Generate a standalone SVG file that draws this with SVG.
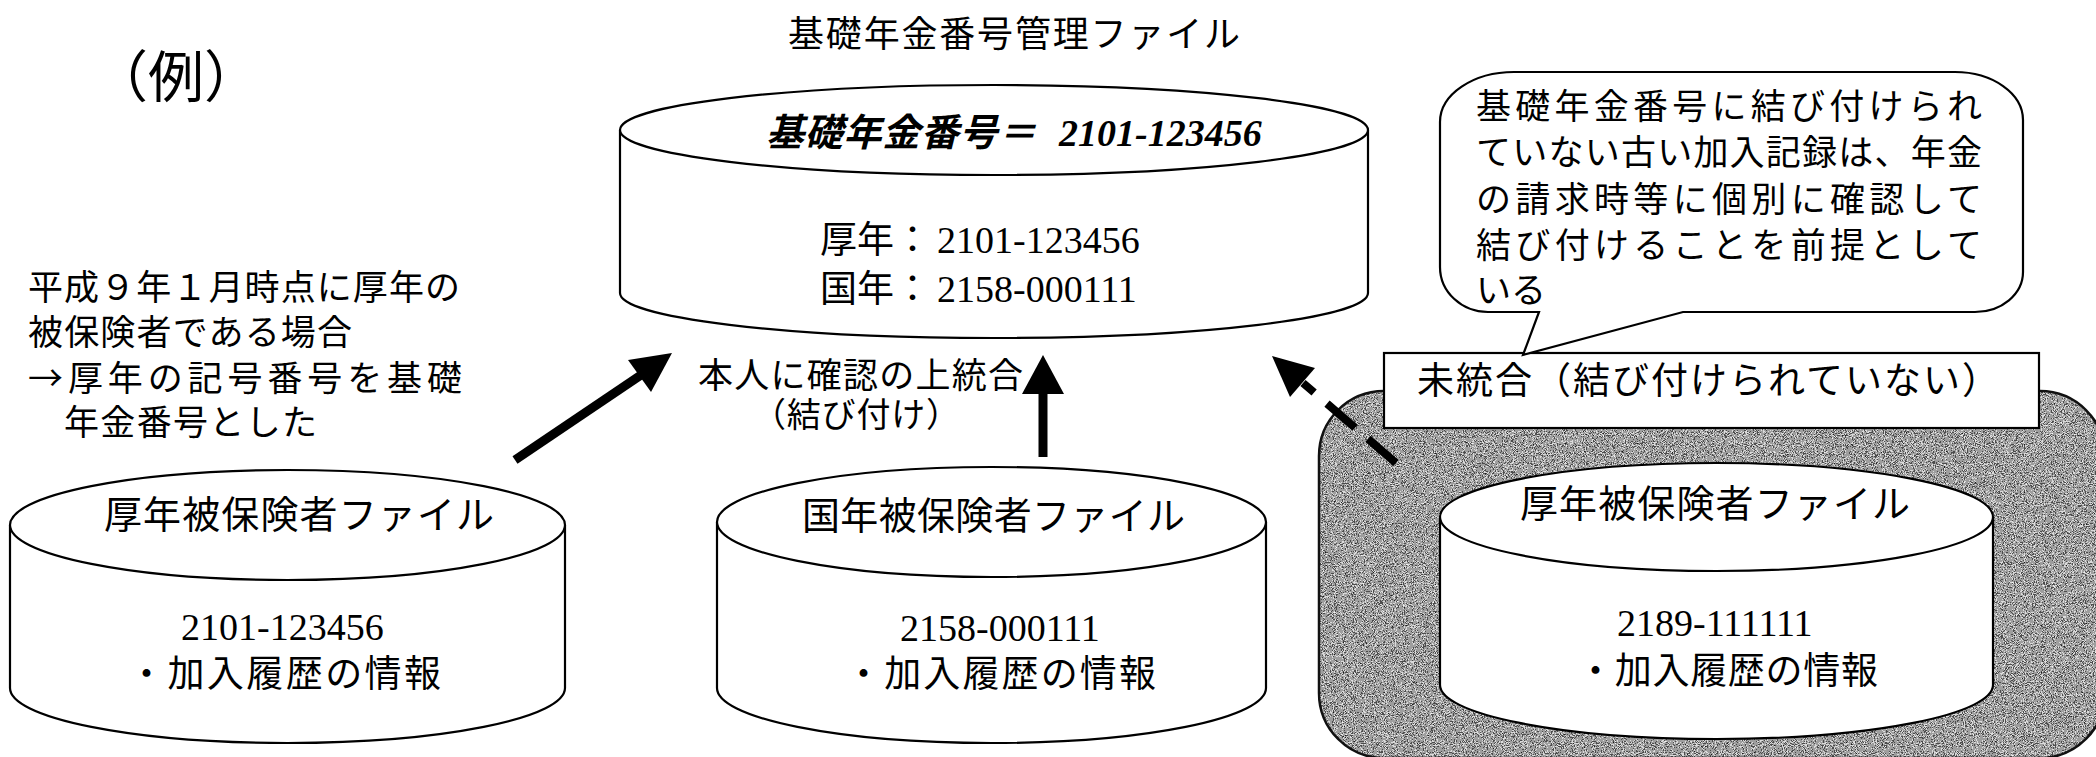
<svg xmlns="http://www.w3.org/2000/svg" width="2096" height="757" viewBox="0 0 2096 757">
<style>
.jp{font-family:"Noto Sans CJK JP","Noto Sans CJK SC",sans-serif;fill:#000}
.num{font-family:"Liberation Serif","Times New Roman",serif;fill:#000}
.shape{fill:#fff;stroke:#000;stroke-width:2.2}
.bi{font-weight:bold;font-style:italic}
</style>
<defs>
<filter id="grain" x="0" y="0" width="100%" height="100%" color-interpolation-filters="sRGB">
<feTurbulence type="fractalNoise" baseFrequency="1.1" numOctaves="2" seed="5" result="noise"/>
<feColorMatrix in="noise" type="matrix" values="1 0 0 0 0  1 0 0 0 0  1 0 0 0 0  0 0 0 0 1" result="gray"/>
<feComponentTransfer in="gray" result="bw">
<feFuncR type="discrete" tableValues="0.1 0.3 0.62 0.86 0.97"/>
<feFuncG type="discrete" tableValues="0.1 0.3 0.62 0.86 0.97"/>
<feFuncB type="discrete" tableValues="0.1 0.3 0.62 0.86 0.97"/>
</feComponentTransfer>
<feComposite in="bw" in2="SourceGraphic" operator="in"/>
</filter>
</defs>
<rect width="2096" height="757" fill="#fff"/>

<g id="title">
<text class="jp" x="788" y="47" font-size="36" textLength="452" lengthAdjust="spacing">基礎年金番号管理ファイル</text>
</g>
<g id="example-label">
<text class="jp" x="176" y="97" font-size="56" text-anchor="middle">（例）</text>
</g>
<g id="note-left">
<text class="jp" x="28" y="300" font-size="35" textLength="432" lengthAdjust="spacing">平成９年１月時点に厚年の</text>
<text class="jp" x="28" y="345" font-size="35" textLength="324" lengthAdjust="spacing">被保険者である場合</text>
<text class="jp" x="28" y="391" font-size="35" textLength="434" lengthAdjust="spacing">→厚年の記号番号を基礎</text>
<text class="jp" x="64" y="435" font-size="35" textLength="253" lengthAdjust="spacing">年金番号とした</text>
</g>

<g id="unmatched-area">
<rect x="1319" y="391" width="786" height="367" rx="65" ry="65" fill="#000" filter="url(#grain)"/>
<rect x="1319" y="391" width="786" height="367" rx="65" ry="65" fill="none" stroke="#111" stroke-width="2.5"/>
</g>

<g id="master-file">
<path class="shape" d="M620,130 V293 A374,45 0 0 0 1368,293 V130"/>
<ellipse class="shape" cx="994" cy="130" rx="374" ry="45"/>
<text y="146" class="bi"><tspan class="jp" x="766" font-size="38" letter-spacing="0.7">基礎年金番号＝</tspan><tspan class="num" x="1059" font-size="38">2101-123456</tspan></text>
<text y="253"><tspan class="jp" x="820" font-size="37">厚年：</tspan><tspan class="num" x="937" font-size="38">2101-123456</tspan></text>
<text y="302"><tspan class="jp" x="820" font-size="37">国年：</tspan><tspan class="num" x="937" font-size="38">2158-000111</tspan></text>
</g>

<g id="kosei-file-1">
<path class="shape" d="M10,525 V688 A277.5,55 0 0 0 565,688 V525"/>
<ellipse class="shape" cx="287.5" cy="525" rx="277.5" ry="55"/>
<text class="jp" x="104" y="528" font-size="38" textLength="390" lengthAdjust="spacing">厚年被保険者ファイル</text>
<text class="num" x="181" y="640" font-size="38">2101-123456</text>
<text class="jp" x="128" y="687" font-size="37" textLength="313" lengthAdjust="spacing">・加入履歴の情報</text>
</g>

<g id="kokumin-file">
<path class="shape" d="M717,522 V688 A274.5,55 0 0 0 1266,688 V522"/>
<ellipse class="shape" cx="991.5" cy="522" rx="274.5" ry="55"/>
<text class="jp" x="802" y="529" font-size="38" textLength="383" lengthAdjust="spacing">国年被保険者ファイル</text>
<text class="num" x="900" y="641" font-size="38">2158-000111</text>
<text class="jp" x="845" y="687" font-size="37" textLength="311" lengthAdjust="spacing">・加入履歴の情報</text>
</g>

<g id="kosei-file-2">
<path class="shape" d="M1440,517 V685 A276.5,54 0 0 0 1993,685 V517"/>
<ellipse class="shape" cx="1716.5" cy="517" rx="276.5" ry="54"/>
<text class="jp" x="1520" y="517" font-size="38" textLength="390" lengthAdjust="spacing">厚年被保険者ファイル</text>
<text class="num" x="1617" y="636" font-size="38">2189-111111</text>
<text class="jp" x="1577" y="684" font-size="37" textLength="301" lengthAdjust="spacing">・加入履歴の情報</text>
</g>

<g id="unmatched-label">
<rect x="1384" y="353" width="655" height="75" fill="#fff" stroke="#000" stroke-width="2.2"/>
<text class="jp" x="1417" y="394" font-size="37" textLength="582" lengthAdjust="spacing">未統合（結び付けられていない）</text>
</g>

<g id="callout">
<path class="shape" d="M1440,122 A74,50 0 0 1 1514,72 H1955 A68,48 0 0 1 2023,120 V272 A48,40 0 0 1 1975,312 H1683 L1523,355 L1539,312 H1488 A48,45 0 0 1 1440,267 Z"/>
<text class="jp" x="1476" y="119" font-size="35" textLength="506" lengthAdjust="spacing">基礎年金番号に結び付けられ</text>
<text class="jp" x="1476" y="165" font-size="35" textLength="506" lengthAdjust="spacing">ていない古い加入記録は、年金</text>
<text class="jp" x="1476" y="212" font-size="35" textLength="506" lengthAdjust="spacing">の請求時等に個別に確認して</text>
<text class="jp" x="1476" y="258" font-size="35" textLength="506" lengthAdjust="spacing">結び付けることを前提として</text>
<text class="jp" x="1476" y="303" font-size="35">いる</text>
</g>

<g id="merge-label">
<text class="jp" x="698" y="388" font-size="35" textLength="325" lengthAdjust="spacing">本人に確認の上統合</text>
<text class="jp" x="752" y="427" font-size="34" textLength="208" lengthAdjust="spacing">（結び付け）</text>
</g>

<g id="connectors">
<line x1="515" y1="460" x2="641" y2="375" stroke="#000" stroke-width="9"/>
<polygon points="672,353 628,360 651,392" fill="#000"/>
<line x1="1043" y1="457" x2="1043" y2="390" stroke="#000" stroke-width="9"/>
<polygon points="1043,355 1022,394 1064,394" fill="#000"/>
<line x1="1396" y1="463" x2="1303" y2="383" stroke="#000" stroke-width="8" stroke-dasharray="37 17"/>
<polygon points="1272,356 1315,368 1290,397" fill="#000"/>
</g>
</svg>
